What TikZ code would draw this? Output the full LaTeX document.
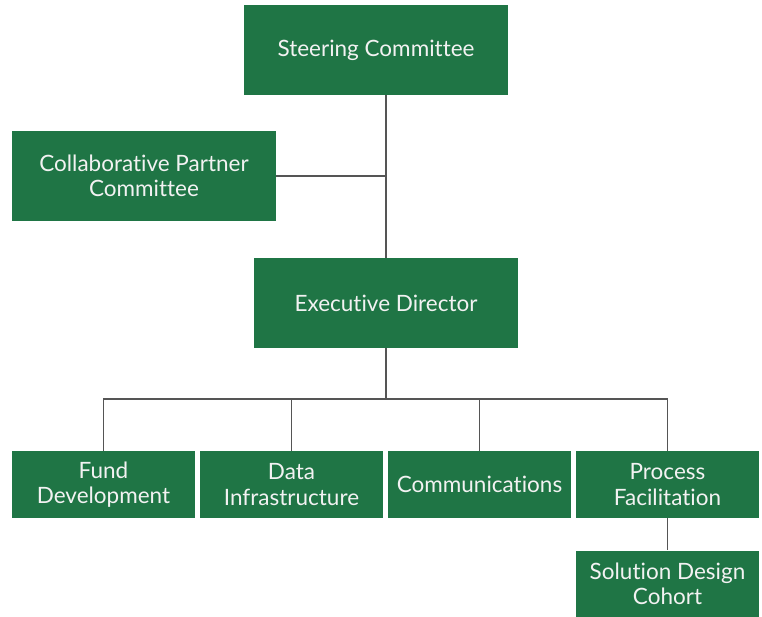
\documentclass[tikz,border=0pt]{standalone}
\usepackage{fontspec}
\setmainfont{Lato}[Ligatures={NoCommon,NoContextual,NoRequired}]
\definecolor{boxgreen}{HTML}{1F7545}
\definecolor{linegray}{HTML}{555555}
\definecolor{txt}{HTML}{F2F2F2}
\begin{document}
\begin{tikzpicture}[x=1pt,y=1pt,
  box/.style={fill=boxgreen, draw=none, text=txt, align=center, inner sep=0pt,
    font=\fontsize{22.5}{25.5}\selectfont},
  bigbox/.style={box, minimum width=264pt, minimum height=90pt},
  smallbox/.style={box, minimum width=183pt, minimum height=67pt},
  conn/.style={draw=linegray, line width=1.3pt}]
\useasboundingbox (0,0) rectangle (762,-617);
\node[bigbox] (steer) at (376,-50) {Steering Committee};
\node[bigbox] (cpc) at (144,-176) {Collaborative Partner\\Committee};
\node[bigbox] (ed) at (386,-303) {Executive Director};
\node[smallbox] (fund) at (103.5,-484.5) {Fund\\Development};
\node[smallbox] (data) at (291.5,-484.5) {Data\\Infrastructure};
\node[smallbox] (comm) at (479.5,-484.5) {Communications};
\node[smallbox] (proc) at (667.5,-484.5) {Process\\Facilitation};
\node[smallbox] (sol) at (667.5,-584) {Solution Design\\Cohort};
\coordinate (bus) at (386,-399);
\draw[conn] (ed.north) -- (ed.north |- steer.south);
\draw[conn] (cpc.east) -- (cpc.east -| ed.north);
\draw[conn] (ed.south) -- (bus);
\draw[conn] (fund.north) -- (fund.north |- bus) -- (proc.north |- bus) -- (proc.north);
\draw[conn] (data.north) -- (data.north |- bus);
\draw[conn] (comm.north) -- (comm.north |- bus);
\draw[conn] (proc.south) -- (sol.north);
\end{tikzpicture}
\end{document}
